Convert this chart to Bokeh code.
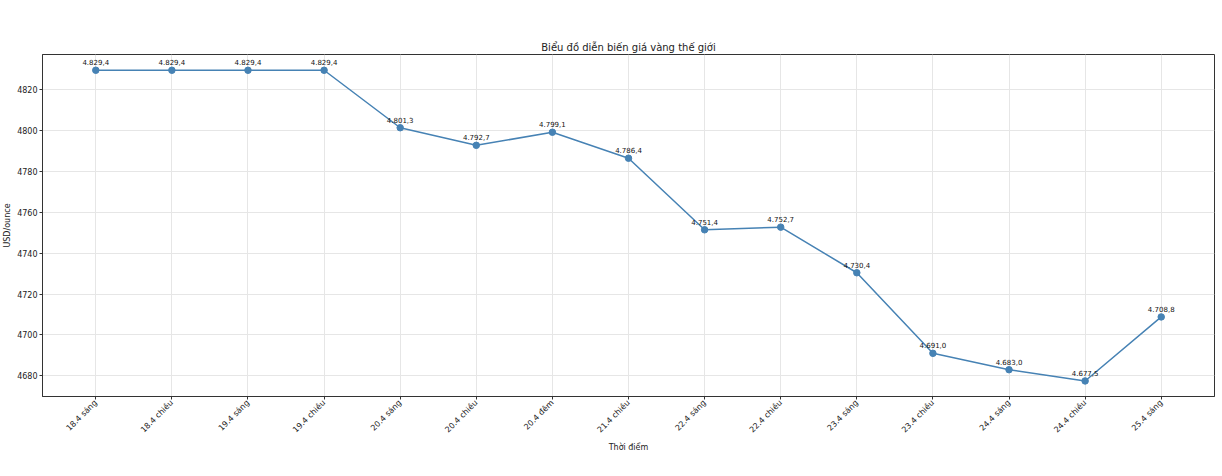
from math import pi
from bokeh.plotting import figure
from bokeh.models import ColumnDataSource, Range1d, FactorRange
from bokeh.core.properties import value
from bokeh.embed import file_html
from bokeh.resources import INLINE

categories = ["18.4 sáng", "18.4 chiều", "19.4 sáng", "19.4 chiều", "20.4 sáng",
              "20.4 chiều", "20.4 đêm", "21.4 chiều", "22.4 sáng", "22.4 chiều",
              "23.4 sáng", "23.4 chiều", "24.4 sáng", "24.4 chiều", "25.4 sáng"]
prices = [4829.4, 4829.4, 4829.4, 4829.4, 4801.3, 4792.7, 4799.1, 4786.4,
          4751.4, 4752.7, 4730.4, 4691.0, 4683.0, 4677.5, 4708.8]
y_ticks = [4680, 4700, 4720, 4740, 4760, 4780, 4800, 4820]

def vn(v):
    s = f"{v:,.1f}"
    return s.replace(",", "X").replace(".", ",").replace("X", ".")

labels = [vn(v) for v in prices]
src = ColumnDataSource(dict(x=categories, y=prices, label=labels))

FONT = "DejaVu Sans"
p = figure(width=1218, height=466, output_backend="svg", toolbar_location=None,
           x_range=FactorRange(*categories, range_padding=0.2, range_padding_units="absolute"),
           y_range=Range1d(4669.9, 4837.1),
           title="Biểu đồ diễn biến giá vàng thế giới",
           min_border_top=54, min_border_bottom=70, min_border_left=30, min_border_right=4)

p.title.align = "center"
p.title.text_font = FONT
p.title.text_font_style = "normal"
p.title.text_font_size = "10px"
p.title.text_color = "#222222"
p.title.offset = 0
p.title.standoff = 4

p.outline_line_color = "#333333"
p.outline_line_width = 1
p.xgrid.grid_line_color = "#e6e6e6"
p.ygrid.grid_line_color = "#e6e6e6"

p.yaxis.ticker = y_ticks
for ax in (p.xaxis[0], p.yaxis[0]):
    ax.axis_line_color = "#333333"
    ax.major_tick_line_color = "#333333"
    ax.major_tick_out = 3
    ax.major_tick_in = 0
    ax.minor_tick_line_color = None
    ax.major_label_text_font = FONT
    ax.major_label_text_font_size = "8px"
    ax.major_label_text_color = "#222222"
    ax.axis_label_text_font = FONT
    ax.axis_label_text_font_size = "8px"
    ax.axis_label_text_font_style = "normal"
    ax.axis_label_text_color = "#222222"
    ax.major_label_standoff = 2
    ax.axis_label_standoff = 2

p.xaxis.axis_label = "Thời điểm"
p.yaxis.axis_label = "USD/ounce"
p.xaxis.major_label_orientation = pi / 4

p.line("x", "y", source=src, line_color="#4682b4", line_width=1.5)
p.scatter("x", "y", source=src, size=6.5, fill_color="#4682b4", line_color="#4682b4")
p.text("x", "y", text="label", source=src, text_font=value(FONT), text_font_size="7px",
       text_align="center", text_baseline="bottom", y_offset=-5, text_color="#111111")

open("out.html", "w").write(file_html(p, INLINE))
